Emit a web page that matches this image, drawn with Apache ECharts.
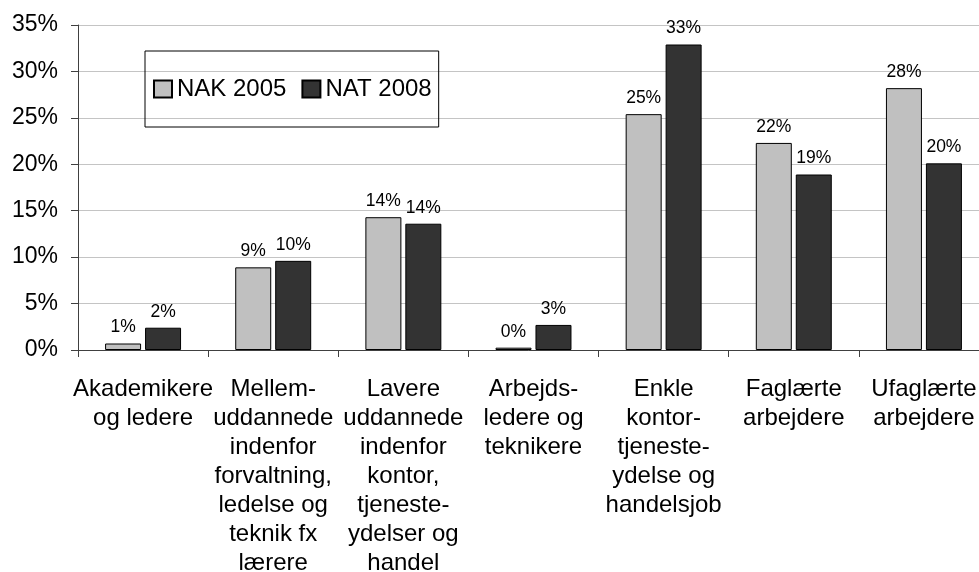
<!DOCTYPE html>
<html>
<head>
<meta charset="utf-8">
<title>NAK 2005 / NAT 2008</title>
<script src="https://cdn.jsdelivr.net/npm/echarts@6/dist/echarts.min.js"></script>
<style>
  html, body { margin: 0; padding: 0; background: #fff; }
  #chart { width: 979px; height: 572px; }
</style>
</head>
<body>
<div id="chart"></div>
<script>
// kategorier (linjeskift som i originalen)
var categories = [
  'Akademikere\nog ledere',
  'Mellem-\nuddannede\nindenfor\nforvaltning,\nledelse og\nteknik fx\nlærere',
  'Lavere\nuddannede\nindenfor\nkontor,\ntjeneste-\nydelser og\nhandel',
  'Arbejds-\nledere og\nteknikere',
  'Enkle\nkontor-\ntjeneste-\nydelse og\nhandelsjob',
  'Faglærte\narbejdere',
  'Ufaglærte\narbejdere'
];
var seriesNames = ['NAK 2005', 'NAT 2008'];
// procent
var nak2005 = [0.7, 8.9, 14.3, 0.25, 25.4, 22.3, 28.2];
var nat2008 = [2.4, 9.6, 13.6, 2.7, 32.9, 18.9, 20.1];
var yTicks = { min: 0, max: 35, interval: 5 };

var font = 'Liberation Sans, Arial, sans-serif';
var chart = echarts.init(document.getElementById('chart'));

function barSeries(name, data, color) {
  return {
    name: name,
    type: 'bar',
    data: data,
    barWidth: 36,
    barGap: '11%',
    itemStyle: { color: color, borderColor: '#000', borderWidth: 1 },
    label: {
      show: true,
      position: 'top',
      distance: 7,
      color: '#000',
      fontFamily: font,
      fontSize: 17.5,
      formatter: function (p) { return Math.round(p.value) + '%'; }
    }
  };
}

chart.setOption({
  animation: false,
  backgroundColor: '#fff',
  textStyle: { fontFamily: font },
  // plotområdet går lidt ud over højre kant, som i originalen
  grid: { left: 78, width: 911, top: 25, bottom: 222, outerBoundsMode: 'none', containLabel: false },
  legend: {
    left: 145,
    top: 51,
    padding: [26, 7, 26, 8],
    borderColor: '#000',
    borderWidth: 1,
    itemWidth: 18,
    itemHeight: 17,
    itemGap: 15,
    icon: 'rect',
    textStyle: { fontFamily: font, fontSize: 24, color: '#000', lineHeight: 24 },
    data: seriesNames
  },
  xAxis: {
    type: 'category',
    data: categories,
    axisLine: { lineStyle: { color: '#404040', width: 1 } },
    axisTick: { show: true, length: 7, lineStyle: { color: '#404040' } },
    axisLabel: {
      interval: 0,
      margin: 25,
      color: '#000',
      fontFamily: font,
      fontSize: 24,
      lineHeight: 29,
      align: 'center'
    }
  },
  yAxis: {
    type: 'value',
    min: yTicks.min,
    max: yTicks.max,
    interval: yTicks.interval,
    axisLine: { show: true, lineStyle: { color: '#404040', width: 1 } },
    axisTick: { show: true, length: 7, lineStyle: { color: '#404040' } },
    splitLine: { show: true, lineStyle: { color: '#c4c4c4', width: 1 } },
    axisLabel: {
      margin: 20,
      color: '#000',
      fontFamily: font,
      fontSize: 23,
      formatter: function (v) { return v + '%'; }
    }
  },
  series: [
    barSeries(seriesNames[0], nak2005, '#c0c0c0'),
    barSeries(seriesNames[1], nat2008, '#333333')
  ]
});
</script>
</body>
</html>
